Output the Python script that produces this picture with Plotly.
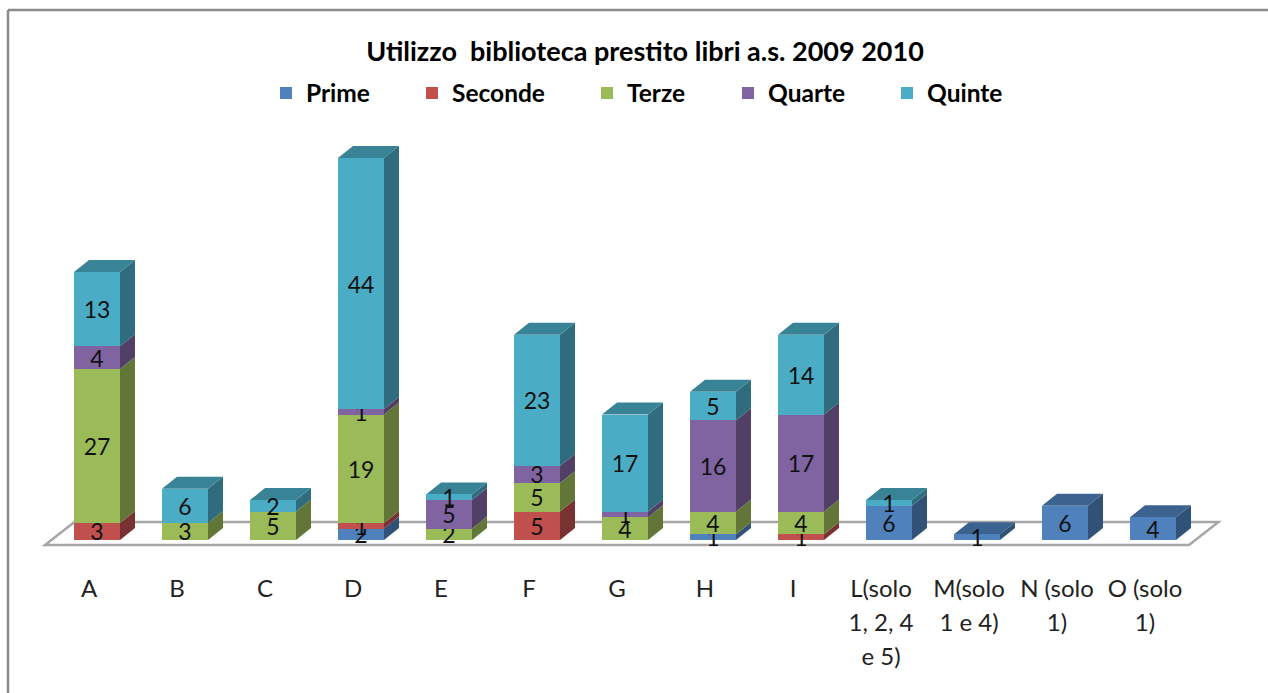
import plotly.graph_objects as go

categories = ["A", "B", "C", "D", "E", "F", "G", "H", "I",
              "L(solo<br>1, 2, 4<br>e 5)", "M(solo<br>1 e 4)", "N (solo<br>1)", "O (solo<br>1)"]
prime   = [0, 0, 0, 2, 0, 0, 0, 1, 0, 6, 1, 6, 4]
seconde = [3, 0, 0, 1, 0, 5, 0, 0, 1, 0, 0, 0, 0]
terze   = [27, 3, 5, 19, 2, 5, 4, 4, 4, 0, 0, 0, 0]
quarte  = [4, 0, 0, 1, 5, 3, 1, 16, 17, 0, 0, 0, 0]
quinte  = [13, 6, 2, 44, 1, 23, 17, 5, 14, 1, 0, 0, 0]
series_names = ["Prime", "Seconde", "Terze", "Quarte", "Quinte"]
series_values = [prime, seconde, terze, quarte, quinte]
title_text = "Utilizzo  biblioteca prestito libri a.s. 2009 2010"

COLORS = [(79, 129, 189), (192, 80, 77), (155, 187, 89), (128, 100, 162), (75, 172, 198)]
W, H = 1268, 693
PX_PER_CAT = 88.0
PX_PER_UNIT = 5.7
TICK0_PX = 89.0
BASE_PX = 540.0
PLOT_BOTTOM_PX = 550.0
BAR_OFFSET = 8.0 / PX_PER_CAT
BAR_W = 46.0 / PX_PER_CAT
DX = 15.0 / PX_PER_CAT
DY = 12.0 / PX_PER_UNIT
FONT = "Lato"


def rgb(c, k=1.0):
    return "rgb(%d,%d,%d)" % tuple(round(v * k) for v in c)


fig = go.Figure()
n = len(categories)
xs = [i + BAR_OFFSET for i in range(n)]
legend_left_px = [266, 412, 587, 728, 887]

for s, (name, vals, col) in enumerate(zip(series_names, series_values, COLORS)):
    lname = "legend" if s == 0 else "legend%d" % (s + 1)
    fig.add_trace(go.Bar(
        name=name, x=xs, y=vals, width=BAR_W, legend=lname,
        marker=dict(color=rgb(col), line=dict(width=0)),
        text=[str(v) if v else "" for v in vals],
        textposition="inside", insidetextanchor="middle", constraintext="none",
        textangle=0, cliponaxis=False,
        textfont=dict(family=FONT, size=23, color="#111111"),
    ))

shapes = []
# border of the chart area
shapes.append(dict(type="line", xref="paper", yref="paper", x0=8 / W, x1=1,
                   y0=(PLOT_BOTTOM_PX - 10) / PLOT_BOTTOM_PX, y1=(PLOT_BOTTOM_PX - 10) / PLOT_BOTTOM_PX,
                   line=dict(color="#8c8c8c", width=2.5), layer="below"))
shapes.append(dict(type="line", xref="paper", yref="paper", x0=8 / W, x1=8 / W,
                   y0=(PLOT_BOTTOM_PX - H) / PLOT_BOTTOM_PX, y1=(PLOT_BOTTOM_PX - 10) / PLOT_BOTTOM_PX,
                   line=dict(color="#8c8c8c", width=2.5), layer="below"))
# floor
fl, fr, fd, fb = -0.5, 12.5, 0.335, -0.88
shapes.append(dict(type="path", xref="x", yref="y", layer="below",
                   path=f"M{fl},{fb} L{fl + fd},{3.16} L{fr + fd},{3.16} L{fr},{fb} Z",
                   fillcolor="white", line=dict(color="#a6a6a6", width=2.5)))
# side and top faces derived from the data
for i, x in enumerate(xs):
    cum = 0
    top_col = None
    xr = x + BAR_W / 2
    xl = x - BAR_W / 2
    for vals, col in zip(series_values, COLORS):
        v = vals[i]
        if not v:
            continue
        shapes.append(dict(type="path", xref="x", yref="y", layer="below",
                           path=f"M{xr},{cum} L{xr + DX},{cum + DY} L{xr + DX},{cum + v + DY} L{xr},{cum + v} Z",
                           fillcolor=rgb(col, 0.63), line=dict(width=0)))
        cum += v
        top_col = col
    shapes.append(dict(type="path", xref="x", yref="y", layer="below",
                       path=f"M{xl},{cum} L{xl + DX},{cum + DY} L{xr + DX},{cum + DY} L{xr},{cum} Z",
                       fillcolor=rgb(top_col, 0.76), line=dict(width=0)))

layout = dict(
    width=W, height=H, autosize=False,
    margin=dict(l=0, r=0, t=0, b=H - PLOT_BOTTOM_PX, pad=0),
    paper_bgcolor="white", plot_bgcolor="rgba(0,0,0,0)",
    barmode="stack",
    showlegend=True,
    title=dict(text=title_text, x=645 / W, xanchor="center", y=1 - 52 / H, yanchor="middle",
               font=dict(family=FONT, size=27, color="#000000", weight=700)),
    xaxis=dict(range=[-TICK0_PX / PX_PER_CAT, (W - TICK0_PX) / PX_PER_CAT], tickmode="array",
               tickvals=list(range(n)),
               ticktext=['<span style="font-size:24px">' + c.replace("<br>", '</span><br><span style="font-size:24px">') + "</span>" for c in categories],
               tickfont=dict(family=FONT, size=26, color="#222222"),
               showgrid=False, zeroline=False, showline=False, ticks="", ticklabelstandoff=20, tickangle=0, fixedrange=True),
    yaxis=dict(range=[-(PLOT_BOTTOM_PX - BASE_PX) / PX_PER_UNIT, BASE_PX / PX_PER_UNIT], visible=False, fixedrange=True),
    shapes=shapes,
)
for s, left in enumerate(legend_left_px):
    key = "legend" if s == 0 else "legend%d" % (s + 1)
    layout[key] = dict(x=left / W, xanchor="left", y=(PLOT_BOTTOM_PX - 93) / PLOT_BOTTOM_PX, yanchor="middle",
                       font=dict(family=FONT, size=24.5, color="#000000", weight=700),
                       bgcolor="rgba(0,0,0,0)", borderwidth=0, itemclick=False, itemdoubleclick=False)
fig.update_layout(**layout)

fig.write_html("out.html", config=dict(displayModeBar=False),
               post_script="document.body.style.margin='0';document.body.style.overflow='hidden';")
